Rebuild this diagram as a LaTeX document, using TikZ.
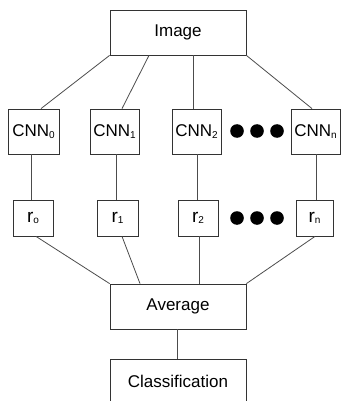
\documentclass[tikz,border=0pt]{standalone}
\usepackage{fontspec}
\setmainfont{Liberation Sans}
\newcommand{\sbs}[1]{\raisebox{-1.5pt}{\fontsize{10}{10}\selectfont #1}}
\begin{document}
\begin{tikzpicture}[x=1pt,y=-1pt,
  box/.style={draw=black!80,line width=0.8pt,inner sep=0pt,font=\fontsize{17}{20}\selectfont},
  rbox/.style={box,font=\fontsize{19}{22}\selectfont},
  conn/.style={draw=black!70,line width=0.8pt},
  dotc/.style={fill=black}]
\useasboundingbox (0,0) rectangle (340,401);
\node[box,minimum width=136pt,minimum height=45pt] (img) at (178,32.5) {Image};
\node[box,minimum width=51pt,minimum height=45pt] (cnn0) at (33.5,131.5) {CNN\sbs{0}};
\node[box,minimum width=49pt,minimum height=45pt] (cnn1) at (114.5,131.5) {CNN\sbs{1}};
\node[box,minimum width=49pt,minimum height=45pt] (cnn2) at (196.5,131.5) {CNN\sbs{2}};
\node[box,minimum width=49pt,minimum height=45pt] (cnnn) at (315.5,131.5) {CNN\sbs{n}};
\node[rbox,minimum width=40pt,minimum height=36pt] (r0) at (33,218) {r\sbs{o}};
\node[rbox,minimum width=41pt,minimum height=36pt] (r1) at (117.5,218) {r\sbs{1}};
\node[rbox,minimum width=40pt,minimum height=36pt] (r2) at (198,218) {r\sbs{2}};
\node[rbox,minimum width=37pt,minimum height=36pt] (rn) at (314.5,218) {r\sbs{n}};
\node[box,minimum width=136pt,minimum height=45pt] (avg) at (178,306.5) {Average};
\node[box,minimum width=136pt,minimum height=45pt] (cls) at (178,381.5) {Classification};
\foreach \i/\x in {a/237,b/257,c/277}{
  \fill[dotc] (\x,131) circle (6.8pt);
  \fill[dotc] (\x,218) circle (6.8pt);
}
\draw[conn] (img.south west) -- ([xshift=7.5pt]cnn0.north);
\draw[conn] ([xshift=-29pt]img.south) -- ([xshift=7.5pt]cnn1.north);
\draw[conn] ([xshift=15pt]img.south) -- ([xshift=-3.5pt]cnn2.north);
\draw[conn] (img.south east) -- ([xshift=-3.5pt]cnnn.north);
\draw[conn] ([xshift=-2.5pt]cnn0.south) -- ([xshift=-2.5pt]cnn0.south |- r0.north);
\draw[conn] ([xshift=1.5pt]cnn1.south) -- ([xshift=1.5pt]cnn1.south |- r1.north);
\draw[conn] ([xshift=0.5pt]cnn2.south) -- ([xshift=0.5pt]cnn2.south |- r2.north);
\draw[conn] ([xshift=0.5pt]cnnn.south) -- ([xshift=0.5pt]cnnn.south |- rn.north);
\draw[conn] ([xshift=3pt]r0.south) -- (avg.north west);
\draw[conn] ([xshift=4.5pt]r1.south) -- ([xshift=-38pt]avg.north);
\draw[conn] ([xshift=1pt]r2.south) -- ([xshift=1pt]r2.south |- avg.north);
\draw[conn] ([xshift=0.5pt]rn.south) -- (avg.north east);
\draw[conn] ([xshift=-1pt]avg.south) -- ([xshift=-1pt]cls.north);
\end{tikzpicture}
\end{document}
